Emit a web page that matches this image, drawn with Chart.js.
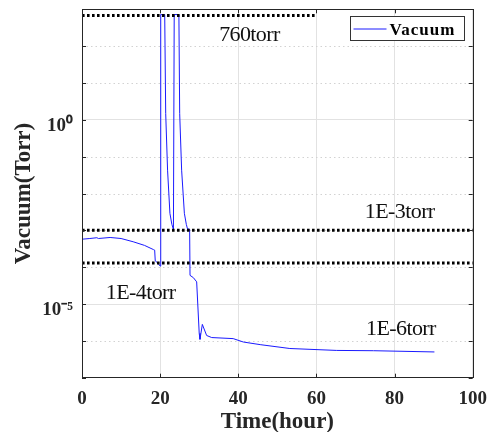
<!DOCTYPE html>
<html><head><meta charset="utf-8">
<script src="https://cdn.jsdelivr.net/npm/chart.js@4/dist/chart.umd.min.js"></script>
<style>html,body{margin:0;padding:0;background:#fff;}#wrap{width:496px;height:432px;}</style>
</head><body><div id="wrap"><canvas id="c" width="496" height="432"></canvas></div>
<script>
// ---- data ----
const timeHours = [0, 2, 3.8, 4.2, 7.2, 10, 13.1, 16, 18.3, 18.6, 18.75, 19.4, 20.0,
  20.15, 21.17, 21.42, 21.9, 22.5, 23.0, 23.4,
  23.6, 23.8, 24.8, 25.0, 25.5, 26.2, 26.7, 27.0, 27.55,
  27.65, 28.5, 29.35, 30.0, 30.2, 30.8, 31.9, 33.2, 38.7, 41.3, 45.6, 53.2, 65.2, 74.6, 90.2];
const vacuumTorr = [5.75e-4, 6.0e-4, 6.3e-4, 6.0e-4, 6.4e-4, 6.0e-4, 4.9e-4, 3.9e-4, 3.0e-4, 2.9e-4, 1.48e-4, 1.3e-4, 1.07e-4,
  720, 720, 1.5, 0.043, 2.9e-3, 1.45e-3, 1.07e-3,
  720, 720, 720, 1.5, 0.043, 2.9e-3, 1.45e-3, 1.1e-3, 1.07e-3,
  6.0e-5, 5.2e-5, 4.0e-5, 1.6e-6, 1.1e-6, 2.8e-6, 1.4e-6, 1.23e-6, 1.15e-6, 9.3e-7, 7.9e-7, 6.2e-7, 5.5e-7, 5.4e-7, 5.0e-7];
const seriesName = 'Vacuum';
const xTickValues = [0, 20, 40, 60, 80, 100];
const yDecades = [1e-7, 1e-6, 1e-5, 1e-4, 1e-3, 1e-2, 1e-1, 1, 1e1, 1e2, 1e3];
const yTickValues = [1e-5, 1];
const yTickLabels = ['10\u207B\u2075', '10\u2070'];
const refLevels = [680, 1e-3, 1.3e-4];
const refEndHours = [60, 100, 100];
const noteTexts = ['760torr', '1E-3torr', '1E-4torr', '1E-6torr'];
const noteHours = [35.1, 72.4, 6.1, 72.7];
const noteTorr = [141, 2.1e-3, 1.35e-5, 1.45e-6];

const SERIF = '"Liberation Serif","Times New Roman",serif';
const AXC = '#262626';

const isLabeled = v => yTickValues.some(t => Math.abs(Math.log10(t) - Math.log10(v)) < 1e-6);

const datasets = [{
  label: seriesName,
  data: timeHours.map((t, i) => ({x: t, y: vacuumTorr[i]})),
  borderColor: '#1a1aff', borderWidth: 1, pointRadius: 0, tension: 0, order: 1
}];
refLevels.forEach((v, i) => datasets.push({
  label: 'ref' + i,
  data: [{x: 0, y: v}, {x: refEndHours[i], y: v}],
  borderColor: '#000', borderWidth: 3, borderDash: [2.6, 2.4], borderCapStyle: 'butt',
  pointRadius: 0, order: 0
}));

const decor = {
  id: 'decor',
  beforeDatasetsDraw(chart) {
    const {ctx, chartArea: a, scales: {y}} = chart;
    ctx.save();
    ctx.strokeStyle = '#d2d2d2'; ctx.lineWidth = 1; ctx.setLineDash([1.5, 3]);
    yDecades.forEach(v => {
      if (isLabeled(v)) return;
      const py = Math.round(y.getPixelForValue(v)) + 0.5;
      if (py < a.top + 1 || py > a.bottom - 1) return;
      ctx.beginPath(); ctx.moveTo(a.left, py); ctx.lineTo(a.right, py); ctx.stroke();
    });
    ctx.restore();
  },
  afterDraw(chart) {
    const {ctx, chartArea: a, scales: {x, y}} = chart;
    ctx.save();
    // annotation notes
    ctx.fillStyle = '#111';
    ctx.font = '22px ' + SERIF;
    ctx.textBaseline = 'alphabetic'; ctx.textAlign = 'left';
    try { ctx.letterSpacing = '-0.6px'; } catch (e) {}
    noteTexts.forEach((s, i) => ctx.fillText(s, x.getPixelForValue(noteHours[i]), y.getPixelForValue(noteTorr[i])));
    try { ctx.letterSpacing = '0px'; } catch (e) {}
    // frame
    ctx.strokeStyle = AXC; ctx.lineWidth = 1; ctx.setLineDash([]);
    ctx.strokeRect(Math.round(a.left) + 0.5, Math.round(a.top) + 0.5, Math.round(a.right - a.left), Math.round(a.bottom - a.top));
    // inward ticks
    const tl = 4;
    yDecades.forEach(v => {
      const py = Math.round(y.getPixelForValue(v)) + 0.5;
      ctx.beginPath();
      ctx.moveTo(a.left, py); ctx.lineTo(a.left + tl, py);
      ctx.moveTo(a.right, py); ctx.lineTo(a.right - tl, py);
      ctx.stroke();
    });
    xTickValues.forEach(v => {
      const px = Math.round(x.getPixelForValue(v)) + 0.5;
      ctx.beginPath();
      ctx.moveTo(px, a.bottom); ctx.lineTo(px, a.bottom - tl);
      ctx.moveTo(px, a.top); ctx.lineTo(px, a.top + tl);
      ctx.stroke();
    });
    // legend
    const bw = 114, bh = 24, bx = Math.round(a.right - 9 - bw) + 0.5, by = Math.round(a.top + 7) + 0.5;
    ctx.fillStyle = '#fff'; ctx.fillRect(bx, by, bw, bh);
    ctx.strokeStyle = '#333'; ctx.strokeRect(bx, by, bw, bh);
    const ds = chart.data.datasets[0];
    ctx.strokeStyle = ds.borderColor; ctx.lineWidth = 1;
    ctx.beginPath(); ctx.moveTo(bx + 3, by + 12.5); ctx.lineTo(bx + 36, by + 12.5); ctx.stroke();
    ctx.fillStyle = '#000';
    ctx.font = 'bold 17px ' + SERIF;
    try { ctx.letterSpacing = '1px'; } catch (e) {}
    ctx.textBaseline = 'alphabetic';
    ctx.fillText(ds.label, bx + 39, by + 18.5);
    ctx.restore();
  }
};

new Chart(document.getElementById('c'), {
  type: 'line',
  data: {datasets},
  plugins: [decor],
  options: {
    responsive: false, animation: false, devicePixelRatio: 1,
    layout: {padding: {top: 9.3, right: 23.3, left: 0, bottom: 0}},
    plugins: {legend: {display: false}, tooltip: {enabled: false}},
    scales: {
      x: {
        type: 'linear', min: 0, max: 100,
        afterBuildTicks: s => { s.ticks = xTickValues.map(v => ({value: v})); },
        afterFit: s => { s.height = 54.3; s.paddingLeft = 0; s.paddingRight = 0; },
        ticks: {color: AXC, font: {family: SERIF, size: 19, weight: 'bold'}, padding: 10, autoSkip: false, maxRotation: 0},
        grid: {color: '#e2e2e2', drawTicks: false},
        border: {display: false},
        title: {display: true, text: 'Time(hour)', color: AXC,
          font: {family: SERIF, size: 23, weight: 'bold', lineHeight: 0.8}, padding: {top: 0, bottom: 0.6}}
      },
      y: {
        type: 'logarithmic', min: 1e-7, max: 1e3,
        afterBuildTicks: s => { s.ticks = yDecades.map(v => ({value: v})); },
        afterFit: s => { s.width = 82; s.paddingTop = 0; s.paddingBottom = 0; },
        ticks: {color: AXC, font: {family: SERIF, size: 19, weight: 'bold'}, padding: 9, autoSkip: false,
          labelOffset: 6,
          callback: v => { const i = yTickValues.findIndex(t => Math.abs(Math.log10(t) - Math.log10(v)) < 1e-6); return i >= 0 ? yTickLabels[i] : ''; }},
        grid: {color: c => (c.tick && isLabeled(c.tick.value)) ? '#e2e2e2' : 'rgba(0,0,0,0)', drawTicks: false},
        border: {display: false},
        title: {display: true, text: 'Vacuum(Torr)', color: AXC,
          font: {family: SERIF, size: 23, weight: 'bold', lineHeight: 0.8}, padding: {top: 14.7, bottom: 0}}
      }
    }
  }
});
</script>
</body></html>
